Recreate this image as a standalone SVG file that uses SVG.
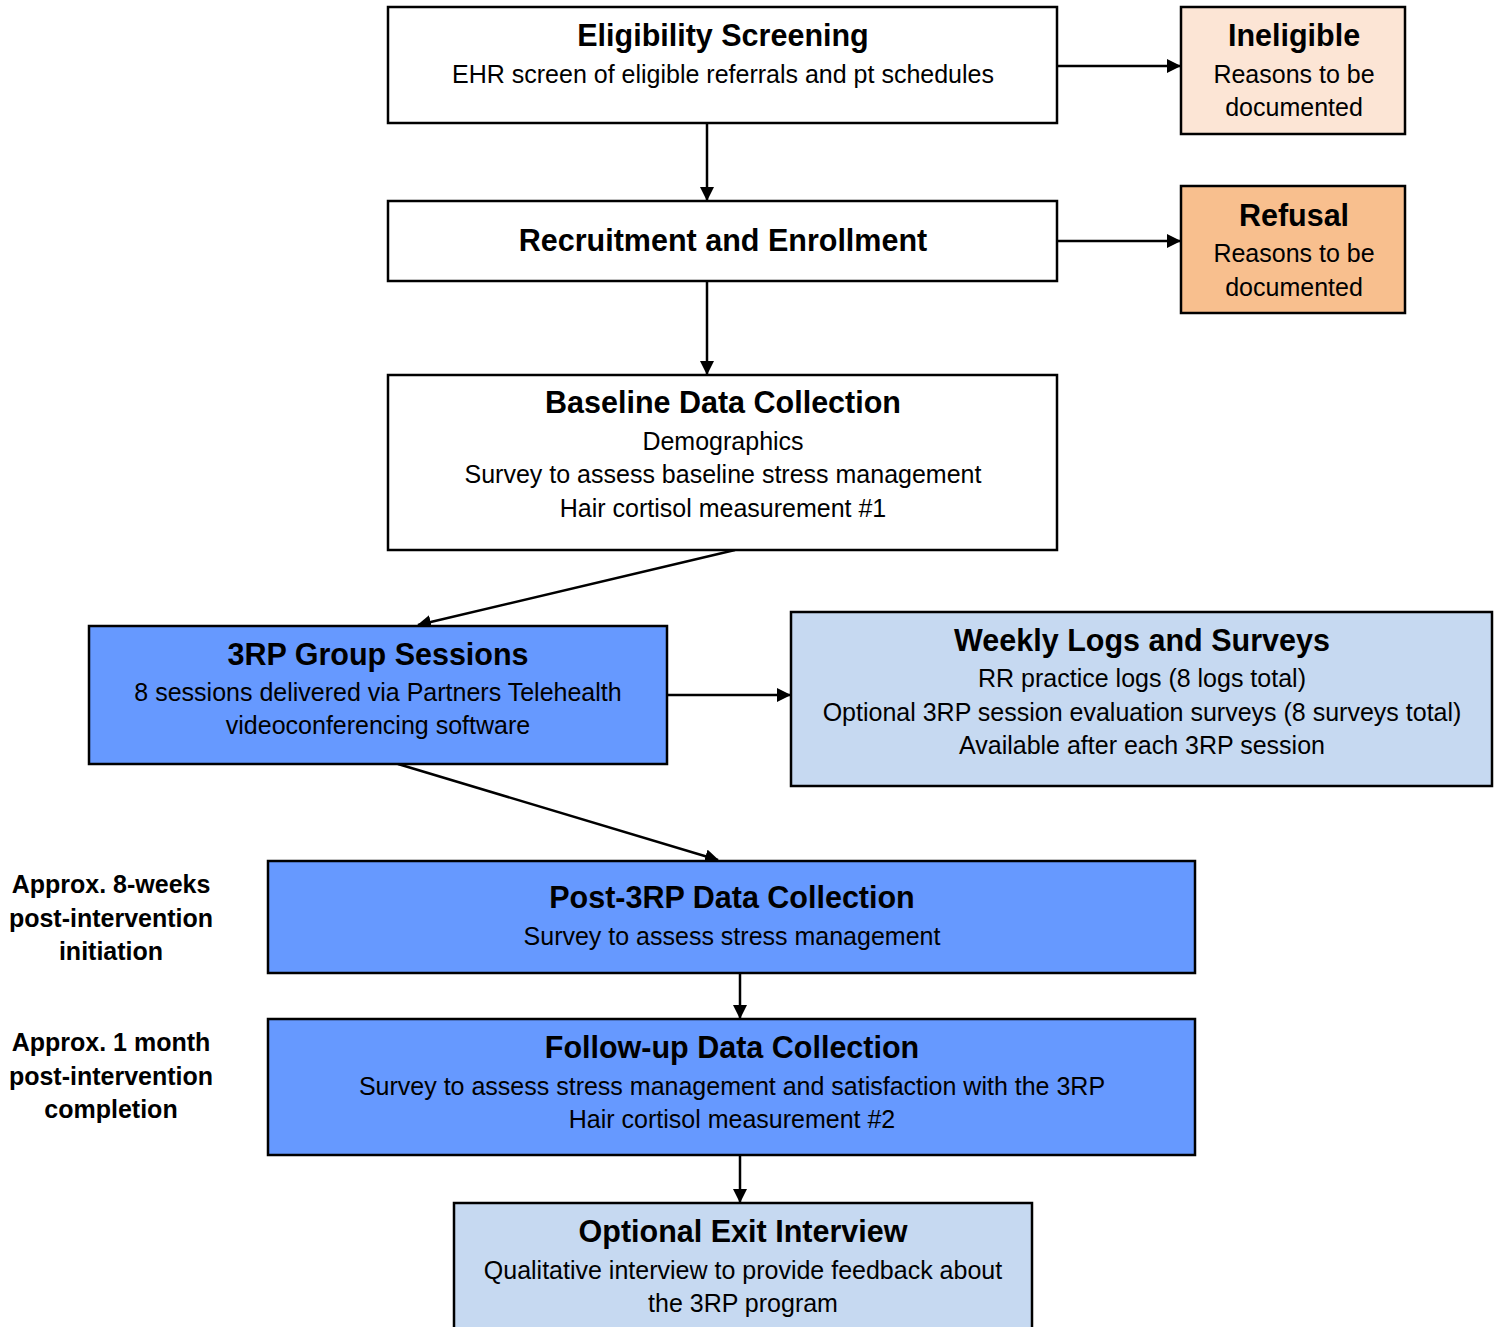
<svg xmlns="http://www.w3.org/2000/svg" width="1499" height="1327" viewBox="0 0 1499 1327">
<defs>
<marker id="ah" markerWidth="14" markerHeight="14" refX="13" refY="7" orient="auto" markerUnits="userSpaceOnUse" viewBox="0 0 14 14">
<path d="M0,0 L14,7 L0,14 Z" fill="#000"/>
</marker>
<style>
.box{stroke:#000;stroke-width:2.5}
.w{fill:#fff}.pl{fill:#FCE5D5}.po{fill:#F8BF8E}.b{fill:#6699FF}.lb{fill:#C6D9F1}
.t{font-family:"Liberation Sans",Arial,sans-serif;font-size:30.5px;font-weight:bold;text-anchor:middle;fill:#000}
.s{font-family:"Liberation Sans",Arial,sans-serif;font-size:25px;text-anchor:middle;fill:#000}
.l{font-family:"Liberation Sans",Arial,sans-serif;font-size:25px;font-weight:bold;text-anchor:middle;fill:#000}
.c{stroke:#000;stroke-width:2.5;fill:none;marker-end:url(#ah)}
</style>
</defs>
<rect width="1499" height="1327" fill="#fff"/>
<g id="connectors">
<line class="c" x1="707" y1="123" x2="707" y2="200"/>
<line class="c" x1="1057" y1="66" x2="1180" y2="66"/>
<line class="c" x1="1057" y1="241" x2="1180" y2="241"/>
<line class="c" x1="707" y1="281" x2="707" y2="374"/>
<line class="c" x1="735" y1="550" x2="418" y2="625"/>
<line class="c" x1="667" y1="695" x2="790" y2="695"/>
<line class="c" x1="398" y1="764" x2="718" y2="860"/>
<line class="c" x1="740" y1="973" x2="740" y2="1018"/>
<line class="c" x1="740" y1="1155" x2="740" y2="1202"/>
</g>
<g id="eligibility">
<rect class="box w" x="388" y="7" width="669" height="116"/>
<text class="t" x="723" y="46">Eligibility Screening</text>
<text class="s" x="723" y="83">EHR screen of eligible referrals and pt schedules</text>
</g>
<g id="ineligible">
<rect class="box pl" x="1181" y="7" width="224" height="127"/>
<text class="t" x="1294" y="46">Ineligible</text>
<text class="s" x="1294" y="83">Reasons to be</text>
<text class="s" x="1294" y="116">documented</text>
</g>
<g id="recruitment">
<rect class="box w" x="388" y="201" width="669" height="80"/>
<text class="t" x="723" y="251">Recruitment and Enrollment</text>
</g>
<g id="refusal">
<rect class="box po" x="1181" y="186" width="224" height="127"/>
<text class="t" x="1294" y="226">Refusal</text>
<text class="s" x="1294" y="262">Reasons to be</text>
<text class="s" x="1294" y="296">documented</text>
</g>
<g id="baseline">
<rect class="box w" x="388" y="375" width="669" height="175"/>
<text class="t" x="723" y="413">Baseline Data Collection</text>
<text class="s" x="723" y="450">Demographics</text>
<text class="s" x="723" y="483">Survey to assess baseline stress management</text>
<text class="s" x="723" y="517">Hair cortisol measurement #1</text>
</g>
<g id="group-sessions">
<rect class="box b" x="89" y="626" width="578" height="138"/>
<text class="t" x="378" y="665">3RP Group Sessions</text>
<text class="s" x="378" y="701">8 sessions delivered via Partners Telehealth</text>
<text class="s" x="378" y="734">videoconferencing software</text>
</g>
<g id="weekly">
<rect class="box lb" x="791" y="612" width="701" height="174"/>
<text class="t" x="1142" y="651">Weekly Logs and Surveys</text>
<text class="s" x="1142" y="687">RR practice logs (8 logs total)</text>
<text class="s" x="1142" y="721">Optional 3RP session evaluation surveys (8 surveys total)</text>
<text class="s" x="1142" y="754">Available after each 3RP session</text>
</g>
<g id="post">
<rect class="box b" x="268" y="861" width="927" height="112"/>
<text class="t" x="732" y="908">Post-3RP Data Collection</text>
<text class="s" x="732" y="945">Survey to assess stress management</text>
</g>
<g id="followup">
<rect class="box b" x="268" y="1019" width="927" height="136"/>
<text class="t" x="732" y="1058">Follow-up Data Collection</text>
<text class="s" x="732" y="1095">Survey to assess stress management and satisfaction with the 3RP</text>
<text class="s" x="732" y="1128">Hair cortisol measurement #2</text>
</g>
<g id="exit">
<rect class="box lb" x="454" y="1203" width="578" height="130"/>
<text class="t" x="743" y="1242">Optional Exit Interview</text>
<text class="s" x="743" y="1279">Qualitative interview to provide feedback about</text>
<text class="s" x="743" y="1312">the 3RP program</text>
</g>
<g id="label-8weeks">
<text class="l" x="111" y="893">Approx. 8-weeks</text>
<text class="l" x="111" y="927">post-intervention</text>
<text class="l" x="111" y="960">initiation</text>
</g>
<g id="label-1month">
<text class="l" x="111" y="1051">Approx. 1 month</text>
<text class="l" x="111" y="1085">post-intervention</text>
<text class="l" x="111" y="1118">completion</text>
</g>
</svg>
